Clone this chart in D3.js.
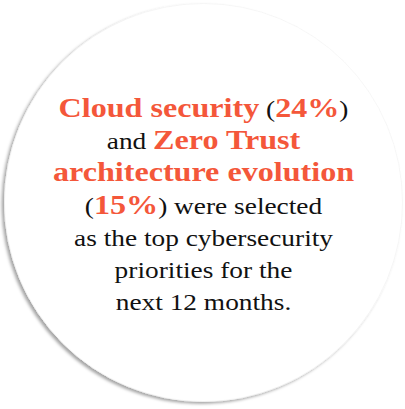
<!DOCTYPE html>
<html>
<head>
<meta charset="utf-8">
<script src="https://cdn.jsdelivr.net/npm/d3@7"></script>
<style>
  html, body { margin: 0; padding: 0; background: #fff; }
  svg { display: block; }
</style>
</head>
<body>
<div id="chart"></div>
<script>
// headline figures
let priorities = ["Cloud security", "Zero Trust architecture evolution"];
let shares = [24, 15];

// text lines: each line is a list of [text, highlighted]
let text_lines = [
    [[priorities[0], true], [" (", false], [shares[0] + "%", true], [")", false]],
    [["and ", false], ["Zero Trust", true]],
    [["architecture evolution", true]],
    [["(", false], [shares[1] + "%", true], [") were selected", false]],
    [["as the top cybersecurity", false]],
    [["priorities for the", false]],
    [["next 12 months.", false]]
];

let chart_width = 405;
let chart_height = 409;
let accent = "#f4573a";

let svg = d3.select("#chart")
            .append("svg")
            .attr("width", chart_width)
            .attr("height", chart_height);

let defs = svg.append("defs");
let shadow = defs.append("filter")
                 .attr("id", "shadow")
                 .attr("x", "-10%").attr("y", "-10%")
                 .attr("width", "120%").attr("height", "120%");
shadow.append("feDropShadow")
      .attr("dx", -2.5)
      .attr("dy", 2)
      .attr("stdDeviation", 1.5)
      .attr("flood-color", "#000")
      .attr("flood-opacity", 0.35);

let cx = 203.5, cy = 202.5, r = 199;

svg.append("circle")
   .attr("cx", cx)
   .attr("cy", cy)
   .attr("r", r)
   .attr("fill", "#fff")
   .attr("stroke", "#f2f2f2")
   .attr("stroke-width", 0.6)
   .attr("filter", "url(#shadow)");

let yLine = d3.scaleLinear()
              .domain([0, text_lines.length - 1])
              .range([117, 310]);

// the original face is wider than Liberation Serif, so stretch it a little
let stretch = 1.19;

let text = svg.append("g")
              .attr("font-family", "'Liberation Serif', 'DejaVu Serif', serif");

text.selectAll("text")
    .data(text_lines)
    .enter()
    .append("text")
    .attr("transform", (d, i) => "translate(" + cx + "," + yLine(i) + ") scale(" + stretch + ",1)")
    .attr("text-anchor", "middle")
    .selectAll("tspan")
    .data(d => d)
    .enter()
    .append("tspan")
    .text(d => d[0])
    .attr("fill", d => d[1] ? accent : "#111")
    .attr("font-weight", d => d[1] ? "bold" : "normal")
    .attr("font-size", d => d[1] ? 27 : 23);
</script>
</body>
</html>
